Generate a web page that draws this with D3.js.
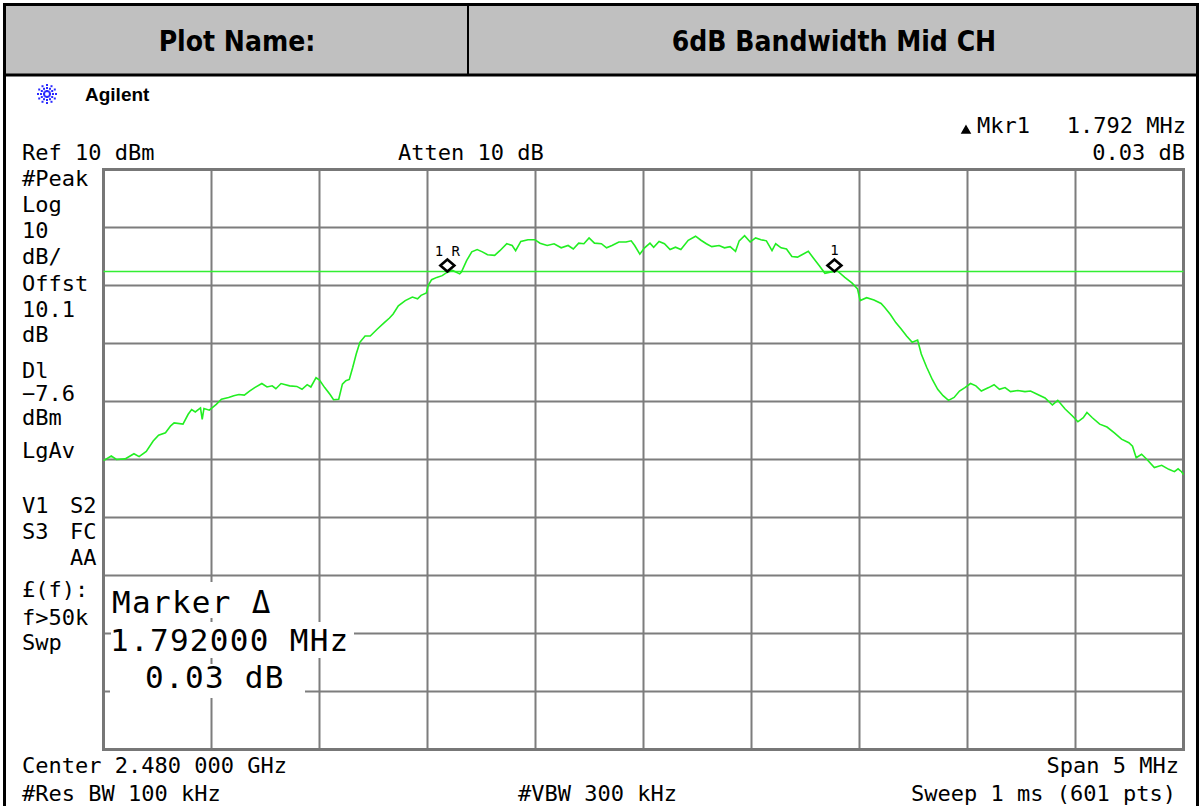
<!DOCTYPE html>
<html>
<head>
<meta charset="utf-8">
<script src="https://cdn.jsdelivr.net/npm/d3@7"></script>
<style>
  body { margin: 0; background: #fff; }
  .mono { font-family: "DejaVu Sans Mono", monospace; fill: #000; }
</style>
</head>
<body>
<div id="chart"></div>
<script>
// trace: offset from centre (MHz) and level (dBm)
var freqOffsetMHz = [
  -2.5, -2.464, -2.44, -2.4, -2.359, -2.335, -2.302, -2.27, -2.245, -2.213, -2.189, -2.173, -2.132, -2.108, -2.092, -2.075, -2.051, -2.043, -2.035, -2.01,
  -1.978, -1.954, -1.921, -1.897, -1.873, -1.848, -1.824, -1.8, -1.767, -1.743, -1.719, -1.702, -1.678, -1.638, -1.605, -1.581, -1.557, -1.54, -1.516, -1.5,
  -1.476, -1.451, -1.435, -1.411, -1.394, -1.378, -1.362, -1.346, -1.33, -1.313, -1.289, -1.265, -1.232, -1.2, -1.176, -1.159, -1.135, -1.103, -1.07, -1.046,
  -1.03, -1.005, -0.997, -0.981, -0.957, -0.932, -0.908, -0.884, -0.851, -0.843, -0.819, -0.795, -0.77, -0.746, -0.722, -0.689, -0.665, -0.633, -0.608, -0.592,
  -0.568, -0.535, -0.503, -0.479, -0.446, -0.414, -0.381, -0.349, -0.325, -0.3, -0.276, -0.252, -0.227, -0.195, -0.171, -0.146, -0.114, -0.081, -0.057, -0.041, -0.017,
  0.005, 0.03, 0.047, 0.072, 0.097, 0.123, 0.148, 0.173, 0.207, 0.241, 0.266, 0.291, 0.316, 0.35, 0.375, 0.401, 0.426, 0.443, 0.468, 0.494,
  0.519, 0.544, 0.569, 0.595, 0.612, 0.637, 0.662, 0.687, 0.713, 0.738, 0.763, 0.789, 0.814, 0.84, 0.864, 0.898, 0.932, 0.966, 0.991, 1.003,
  1.033, 1.067, 1.1, 1.117, 1.143, 1.168, 1.193, 1.218, 1.244, 1.269, 1.286, 1.311, 1.337, 1.362, 1.387, 1.412, 1.438, 1.463, 1.488, 1.514,
  1.539, 1.564, 1.598, 1.623, 1.648, 1.674, 1.699, 1.733, 1.766, 1.792, 1.825, 1.859, 1.893, 1.918, 1.952, 1.986, 2.011, 2.036, 2.053, 2.078,
  2.112, 2.146, 2.18, 2.213, 2.247, 2.264, 2.281, 2.306, 2.331, 2.365, 2.399, 2.432, 2.458, 2.475, 2.491, 2.5
];
var levelDbm = [
  -40.2, -39.4, -40.0, -39.9, -39.0, -39.5, -38.6, -36.8, -35.8, -35.4, -34.2, -33.7, -33.9, -32.2, -31.4, -31.8, -31.1, -33.1, -31.2, -31.5,
  -30.5, -29.6, -29.3, -29.0, -28.8, -28.9, -28.2, -27.6, -26.9, -27.5, -27.3, -27.8, -26.9, -27.3, -27.4, -27.9, -27.1, -27.5, -25.9, -26.3,
  -27.6, -28.8, -29.7, -29.6, -27.0, -26.4, -26.2, -24.1, -21.8, -19.8, -18.7, -18.7, -17.5, -16.4, -15.6, -14.9, -13.5, -12.6, -12.0, -12.3,
  -11.7, -11.3, -10.0, -9.0, -8.6, -8.3, -7.7, -7.4, -8.0, -7.7, -5.7, -4.2, -3.8, -4.2, -4.7, -4.8, -4.0, -2.8, -3.1, -4.0,
  -2.4, -2.1, -2.1, -2.7, -3.1, -2.8, -3.5, -3.1, -3.7, -2.7, -2.8, -1.8, -2.7, -2.8, -3.5, -3.1, -2.5, -2.5, -2.3, -3.1, -4.6,
  -3.5, -2.7, -3.4, -2.4, -2.8, -3.8, -3.4, -3.8, -2.2, -1.5, -2.2, -2.8, -3.3, -3.1, -3.5, -3.3, -4.1, -2.3, -1.4, -2.5,
  -1.8, -2.1, -2.3, -4.0, -2.8, -3.5, -3.7, -5.0, -5.1, -4.6, -4.1, -5.4, -6.6, -7.9, -7.7, -7.5, -8.6, -9.6, -10.6, -12.6,
  -12.1, -12.5, -13.1, -13.8, -15.0, -16.4, -17.5, -18.7, -19.8, -19.4, -21.8, -24.1, -26.2, -27.9, -29.0, -29.8, -29.3, -28.2, -27.6, -26.9,
  -27.3, -28.2, -27.6, -27.1, -27.9, -27.6, -28.3, -28.1, -28.3, -28.2, -28.8, -29.4, -30.6, -29.8, -31.3, -32.5, -33.5, -32.8, -31.9, -32.8,
  -33.9, -34.4, -35.4, -36.5, -37.1, -37.7, -39.7, -39.1, -40.0, -41.4, -41.0, -41.7, -42.1, -41.6, -42.1, -42.6
];

var markerFreqs = [-0.908, 0.884];
var markerLevels = [-7.6, -7.57];
var markerLabels = ["1 R", "1"];
var displayLineDbm = -7.6;

var refLevel = 10, dbPerDiv = 10, spanMHz = 5;

var leftNotes = ["#Peak", "Log", "10", "dB/", "Offst", "10.1", "dB", "Dl", "\u22127.6", "dBm", "LgAv",
                 "V1", "S3", "£(f):", "f>50k", "Swp"];
var leftNotesY = [186, 212, 238, 264, 291, 317, 342, 378, 401, 425, 458,
                  513, 539, 597, 625, 650];
var leftNotes2 = ["S2", "FC", "AA"];
var leftNotes2Y = [513, 539, 565];

var markerBox = ["Marker \u0394", "1.792000 MHz", "0.03 dB"];

var svg = d3.select("#chart").append("svg")
    .attr("width", 1202)
    .attr("height", 806);

// header table
svg.append("rect").attr("x", 5).attr("y", 5).attr("width", 1192).attr("height", 70).attr("fill", "#c0c0c0");
svg.append("rect").attr("x", 4.5).attr("y", 4.5).attr("width", 1193).attr("height", 840)
    .attr("fill", "none").attr("stroke", "#000").attr("stroke-width", 3);
svg.append("line").attr("x1", 4).attr("x2", 1198).attr("y1", 75).attr("y2", 75)
    .attr("stroke", "#000").attr("stroke-width", 3);
svg.append("line").attr("x1", 468).attr("x2", 468).attr("y1", 5).attr("y2", 75)
    .attr("stroke", "#000").attr("stroke-width", 2);
svg.append("text").attr("x", 237).attr("y", 51).attr("text-anchor", "middle")
    .attr("font-family", "DejaVu Sans Condensed, DejaVu Sans").attr("font-weight", "bold")
    .attr("font-size", 28).text("Plot Name:");
svg.append("text").attr("x", 834).attr("y", 51).attr("text-anchor", "middle")
    .attr("font-family", "DejaVu Sans Condensed, DejaVu Sans").attr("font-weight", "bold")
    .attr("font-size", 28).text("6dB Bandwidth Mid CH");

// agilent logo
var logo = svg.append("g").attr("transform", "translate(47,94)");
d3.range(12).forEach(function(i) {
  var a = i * Math.PI / 6;
  [3, 6, 9].forEach(function(r) {
    logo.append("rect")
      .attr("x", Math.cos(a) * r - 1).attr("y", Math.sin(a) * r - 1)
      .attr("width", 2).attr("height", 2).attr("fill", "#2a2aff");
  });
});
svg.append("text").attr("x", 85).attr("y", 101)
    .attr("font-family", "Liberation Sans, Arial").attr("font-weight", "bold")
    .attr("font-size", 19).text("Agilent");

// scales
var x = d3.scaleLinear().domain([-spanMHz / 2, spanMHz / 2]).range([103.5, 1183.5]);
var y = d3.scaleLinear().domain([refLevel - 10 * dbPerDiv, refLevel]).range([749.5, 169.5]);

var grid = svg.append("g");
grid.selectAll(".vx").data(x.ticks(10)).enter().append("line")
    .attr("x1", function(d) { return x(d); }).attr("x2", function(d) { return x(d); })
    .attr("y1", y.range()[1]).attr("y2", y.range()[0])
    .attr("stroke", "#7d7d7d").attr("stroke-width", 2);
grid.selectAll(".hy").data(y.ticks(10)).enter().append("line")
    .attr("y1", function(d) { return y(d); }).attr("y2", function(d) { return y(d); })
    .attr("x1", x.range()[0]).attr("x2", x.range()[1])
    .attr("stroke", "#7d7d7d").attr("stroke-width", 2);
grid.append("rect")
    .attr("x", x.range()[0]).attr("y", y.range()[1])
    .attr("width", x.range()[1] - x.range()[0]).attr("height", y.range()[0] - y.range()[1])
    .attr("fill", "none").attr("stroke", "#777").attr("stroke-width", 3);

// display line
svg.append("line")
    .attr("x1", x.range()[0]).attr("x2", x.range()[1])
    .attr("y1", y(displayLineDbm)).attr("y2", y(displayLineDbm))
    .attr("stroke", "#33ee33").attr("stroke-width", 1.5);

// trace
var trace = freqOffsetMHz.map(function(f, i) { return [f, levelDbm[i]]; });
svg.append("path")
    .datum(trace)
    .attr("fill", "none")
    .attr("stroke", "#22ee22")
    .attr("stroke-width", 1.6)
    .attr("d", d3.line().x(function(d) { return x(d[0]); }).y(function(d) { return y(d[1]); }));

// markers
markerFreqs.forEach(function(f, i) {
  var cx = x(f), cy = y(markerLevels[i]) - 6;
  svg.append("path")
    .attr("d", "M" + cx + "," + (cy - 6) + "L" + (cx + 7) + "," + cy + "L" + cx + "," + (cy + 6) + "L" + (cx - 7) + "," + cy + "Z")
    .attr("fill", "none").attr("stroke", "#000").attr("stroke-width", 2.6);
  svg.append("text").attr("class", "mono")
    .attr("x", cx).attr("y", cy - 10).attr("text-anchor", "middle")
    .attr("font-size", 14).text(markerLabels[i]);
});

// marker readout box
var boxBg = [[107, 582, 162, 36], [111, 622, 243, 36], [110, 664, 195, 34]];
var boxY = [613, 651, 688];
var boxX = [112, 110, 145];
markerBox.forEach(function(t, i) {
  svg.append("rect").attr("x", boxBg[i][0]).attr("y", boxBg[i][1])
    .attr("width", boxBg[i][2]).attr("height", boxBg[i][3]).attr("fill", "#fff");
  svg.append("text").attr("class", "mono")
    .attr("x", boxX[i]).attr("y", boxY[i])
    .attr("font-size", 31).attr("letter-spacing", 1.3).text(t);
});

// annotations
function note(t, px, py, anchor) {
  return svg.append("text").attr("class", "mono")
    .attr("x", px).attr("y", py).attr("font-size", 22)
    .attr("text-anchor", anchor || "start").text(t);
}
leftNotes.forEach(function(t, i) { note(t, 22, leftNotesY[i]); });
leftNotes2.forEach(function(t, i) { note(t, 70, leftNotes2Y[i]); });

note("Ref 10 dBm", 22, 160);
note("Atten 10 dB", 398, 160);
note("0.03 dB", 1185, 160, "end");
note("Mkr1", 977, 133);
note("1.792 MHz", 1186, 133, "end");
svg.append("path").attr("d", "M966,126L970,133L962,133Z")
    .attr("fill", "#000").attr("stroke", "#000").attr("stroke-width", 1.5);
note("Center 2.480 000 GHz", 22, 773);
note("Span 5 MHz", 1179, 773, "end");
note("#Res BW 100 kHz", 22, 801);
note("#VBW 300 kHz", 518, 801);
note("Sweep 1 ms (601 pts)", 1176, 801, "end");
</script>
</body>
</html>
